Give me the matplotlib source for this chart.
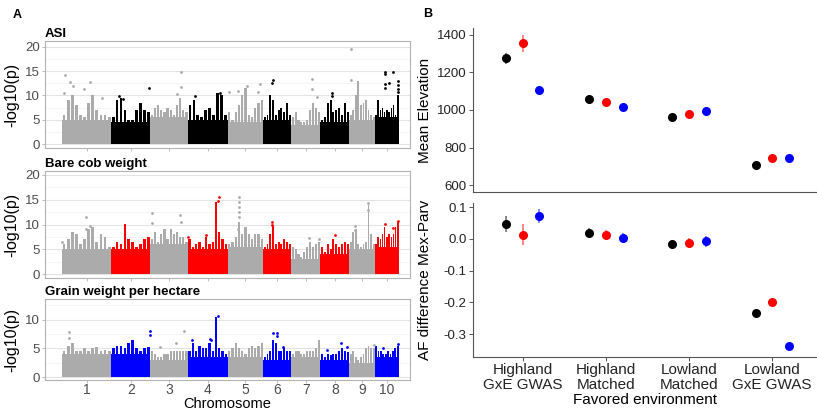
import numpy as np
import matplotlib.pyplot as plt

plt.rcParams['font.family'] = ['Liberation Sans', 'DejaVu Sans']

# --- chromosome sizes (Mb) ---
chrom_len = [307, 244, 235, 247, 223, 174, 182, 181, 159, 150]
chrom_names = ['1', '2', '3', '4', '5', '6', '7', '8', '9', '10']

# --- ASI: outline of the dense cloud along each chromosome + isolated hits ---
asi_band = [
    [6, 9, 10, 8, 6, 5.5, 8.5, 10, 7, 6, 6, 5.5],
    [5.5, 9, 9.5, 7, 5, 5, 7, 8.5, 7, 6.5],
    [6, 7.5, 8, 7, 6.5, 7.5, 7, 6, 8, 9.5, 7, 6.5],
    [8, 9, 6, 5.5, 7, 7.5, 6, 10.5, 10, 6],
    [6.5, 5, 6.5, 8, 10, 11.5, 6, 5.5, 7.5, 8.5, 9],
    [5.5, 6, 10, 9, 6, 7, 7.5, 6.5, 8.5, 6],
    [5.5, 6.5, 5, 4.5, 4.5, 5, 7, 8.5, 7.5, 6.5],
    [5, 5.5, 8.5, 9, 6.5, 7, 7.5, 6, 8.5, 6.5],
    [6, 7, 10, 13, 8, 8.5, 9, 7, 6, 5.5],
    [6, 9, 7, 7.5, 6.5, 7, 6.5, 7.5, 8, 6, 10],
]
asi_hit_chr = [1, 1, 1, 1, 1, 1, 1, 2, 2, 2, 3, 3, 3, 4, 4, 5, 5, 5, 5, 5,
               6, 6, 7, 7, 7, 8, 8, 9, 9, 10, 10, 10, 10, 10, 10, 10, 10, 10, 10]
asi_hit_pos = [0.06, 0.17, 0.22, 0.05, 0.45, 0.57, 0.82, 0.97, 0.2, 0.3, 0.82, 0.82, 0.71, 0.18, 0.8,
               0.04, 0.3, 0.53, 0.92, 0.85, 0.35, 0.31, 0.71, 0.71, 0.9, 0.4, 0.4, 0.08, 0.08,
               0.4, 0.4, 0.4, 0.4, 0.59, 0.74, 0.95, 0.95, 0.95, 0.95]
asi_hit_val = [14.2, 12.8, 11.9, 10.6, 11.3, 12.8, 9.5, 11.5, 9.8, 9.3, 14.8, 11.7, 10.2, 9.9, 10.6,
               10.7, 10.9, 12.0, 12.3, 10.7, 13.2, 12.5, 13.3, 11.4, 9.7, 10.6, 9.8, 19.6, 13.1,
               14.8, 14.5, 12.4, 11.5, 12.6, 14.8, 12.9, 12.1, 11.4, 10.7]

# --- Bare cob weight ---
cob_band = [
    [6, 7, 8.5, 8, 6, 7, 9, 9.5, 6.5, 8, 7.5, 5.5],
    [5.5, 6.5, 6, 10.2, 7, 6.5, 5.5, 6, 7, 7.5],
    [7, 8.5, 6.5, 8, 9, 7, 9, 8, 8.5, 7.5, 7.5, 6.5],
    [7, 5.5, 6, 6.5, 5.5, 7.5, 6, 6.5, 14.5, 8.5, 7, 6],
    [6, 6.5, 7.5, 10.5, 8, 9.5, 8, 7, 8, 8, 7],
    [5.5, 6, 8, 10, 6, 6.5, 6, 7, 6.5, 6],
    [5.5, 5, 4, 3.5, 4.5, 5.5, 6.5, 5.5, 6, 6.5],
    [5.5, 4.5, 6, 5, 7, 6, 5.5, 6, 6.5, 6],
    [6.5, 8.5, 9, 6, 5.5, 6, 6.5, 14, 8, 6],
    [6, 7.5, 7, 8, 9.5, 7.5, 8, 7.5, 8, 9.5, 10.5],
]
cob_hit_chr = [1, 1, 1, 1, 3, 3, 3, 3, 4, 4, 4, 4, 5, 5, 5, 5, 5, 5, 6, 6, 7, 7, 8,
               9, 9, 9, 9, 10, 10, 10]
cob_hit_pos = [0.01, 0.48, 0.48, 0.57, 0.05, 0.05, 0.78, 0.82, 0.0, 0.45, 0.79, 0.77, 0.32, 0.32,
               0.32, 0.32, 0.32, 0.29, 0.31, 0.31, 0.6, 0.95, 0.52, 0.2, 0.2, 0.72, 0.72,
               0.4, 0.75, 0.95]
cob_hit_val = [6.5, 11.5, 9.0, 9.6, 12.3, 10.4, 11.9, 10.5, 7.5, 7.8, 15.6, 14.8, 15.6, 14.5,
               13.5, 12.5, 11.5, 9.0, 10.5, 9.8, 7.2, 7.1, 7.8, 9.6, 8.9, 14.3, 13.0,
               10.2, 9.3, 10.8]

# --- Grain weight per hectare ---
grain_band = [
    [4.5, 5.5, 6, 4.5, 4.5, 5, 4.5, 5, 5.2, 4.5, 4.7, 4.5],
    [5, 5.5, 5.5, 5, 6, 6.5, 5, 4.5, 5, 5.2],
    [4.5, 4, 3.5, 3.5, 4, 4, 4.5, 4.5, 4.5, 4.5, 4.5, 4.5],
    [4.5, 6, 4.5, 5.5, 5, 5, 6, 4.5, 10.5, 5, 4.5, 4],
    [4.5, 5, 6, 5, 4.5, 4, 5, 5.5, 5, 5.5, 6],
    [3.5, 4, 4.5, 6.5, 6, 4.5, 4.5, 5, 4.5, 4.5],
    [4, 4.5, 4.5, 4, 4, 4.5, 4.5, 4.5, 5, 6.5],
    [4, 3.5, 4, 3.8, 4, 4, 4.5, 5, 4.5, 4.3],
    [4, 4.5, 3.5, 3, 3.5, 4, 5, 5.5, 5, 5],
    [5.5, 4.5, 4.5, 4, 4, 4.5, 4, 4.5, 5, 5.5],
]
grain_hit_chr = [1, 1, 2, 2, 3, 3, 3, 4, 4, 4, 4, 6, 6, 6, 6, 8, 8, 8, 9, 10, 10]
grain_hit_pos = [0.14, 0.14, 0.98, 0.98, 0.9, 0.69, 0.26, 0.1, 0.55, 0.58, 0.76, 0.35, 0.49, 0.49,
                 0.72, 0.23, 0.71, 0.93, 0.95, 0.33, 0.95]
grain_hit_val = [7.8, 6.8, 8.1, 7.3, 8.1, 5.9, 5.3, 6.4, 6.6, 6.5, 10.7, 7.7, 7.7, 7.1,
                 5.3, 4.7, 6.0, 5.3, 5.6, 5.1, 5.8]

# --- panel B: favored environment summaries ---
groups = ['Highland\nGxE GWAS', 'Highland\nMatched', 'Lowland\nMatched', 'Lowland\nGxE GWAS']
trait_colors = ['black', 'red', 'blue']
elev_mean = [[1276, 1057, 963, 708], [1356, 1042, 979, 746], [1107, 1018, 995, 742]]
elev_err = [[30, 8, 8, 8], [45, 8, 8, 8], [23, 7, 7, 7]]
af_mean = [[0.047, 0.020, -0.016, -0.235], [0.0137, 0.0126, -0.0126, -0.199], [0.0716, 0.004, -0.008, -0.336]]
af_err = [[0.025, 0.013, 0.013, 0.008], [0.032, 0.014, 0.014, 0.006], [0.023, 0.016, 0.017, 0.009]]

W, H = 817, 412
fig = plt.figure(figsize=(W / 100, H / 100), dpi=100)


def px_axes(left, top, right, bottom):
    return fig.add_axes([left / W, 1 - bottom / H, (right - left) / W, (bottom - top) / H])


starts = np.concatenate([[0], np.cumsum(chrom_len)[:-1]])
mids = starts + np.array(chrom_len) / 2
GRAY = '#ABABAB'


def manhattan(ax, band, hit_chr, hit_pos, hit_val, col, title, ylim, yticks, bottom=False):
    for i, h in enumerate(band):
        c = GRAY if i % 2 == 0 else col
        w = chrom_len[i] / len(h)
        # solid lower part of the cloud, then towers up to the outline
        ax.fill_between([starts[i], starts[i] + chrom_len[i]], 0, min(h) - 0.5,
                        color=c, linewidth=0, zorder=2)
        xc = starts[i] + w * (np.arange(len(h)) + 0.5)
        ax.bar(xc, h, width=w * 0.7, color=c, linewidth=0, zorder=2)
    for ch, p, v in zip(hit_chr, hit_pos, hit_val):
        c = GRAY if (ch - 1) % 2 == 0 else col
        ax.scatter(starts[ch - 1] + p * chrom_len[ch - 1], v, s=4, color=c, linewidths=0, zorder=3)
    ax.set_xlim(-106, 2171)
    ax.set_ylim(*ylim)
    ax.set_yticks(yticks)
    ax.set_yticks(np.arange(2.5, ylim[1], 5), minor=True)
    ax.grid(axis='y', which='major', color='#E3E3E3', linewidth=0.8, zorder=0)
    ax.grid(axis='y', which='minor', color='#F0F0F0', linewidth=0.5, zorder=0)
    ax.set_xticks(mids)
    ax.tick_params(axis='x', which='minor', bottom=False)
    ax.tick_params(axis='y', which='minor', left=False)
    ax.tick_params(colors='#B3B3B3', length=2.5, width=0.6, labelcolor='#4D4D4D', labelsize=9.5, pad=1)
    if bottom:
        ax.set_xticklabels(chrom_names, fontsize=10)
        ax.tick_params(axis='x', pad=0, length=2)
        ax.set_xlabel('Chromosome', fontsize=10.5, color='black', labelpad=0)
    else:
        ax.set_xticklabels([])
    for s in ax.spines.values():
        s.set_color('#B3B3B3')
        s.set_linewidth(0.8)
    ax.set_ylabel('-log10(p)', fontsize=11.5, color='black')
    ax.yaxis.set_label_coords(-0.071, 0.5)
    ax.set_title(title, loc='left', fontsize=9.5, fontweight='bold', pad=3)


ax1 = px_axes(45, 41, 410, 148)
manhattan(ax1, asi_band, asi_hit_chr, asi_hit_pos, asi_hit_val, 'black', 'ASI', (-0.82, 21.2), [0, 5, 10, 15, 20])
ax2 = px_axes(45, 171, 410, 278)
manhattan(ax2, cob_band, cob_hit_chr, cob_hit_pos, cob_hit_val, 'red', 'Bare cob weight', (-0.8, 20.8), [0, 5, 10, 15, 20])
ax3 = px_axes(45, 299, 410, 380)
manhattan(ax3, grain_band, grain_hit_chr, grain_hit_pos, grain_hit_val, 'blue', 'Grain weight per hectare',
          (-0.5, 13.6), [0, 5, 10], bottom=True)

# --- panel B ---
offsets = [-0.2, 0.0, 0.2]
xcat = np.arange(1, len(groups) + 1)


def summary(ax, means, errs, ylim, yticks, ylabel, fmt):
    for k in range(3):
        ax.errorbar(xcat + offsets[k], means[k], yerr=errs[k], fmt='none', ecolor=trait_colors[k],
                    elinewidth=1.1, alpha=0.6, capsize=0, zorder=2)
        ax.plot(xcat + offsets[k], means[k], 'o', color=trait_colors[k], markersize=5.5, zorder=3)
    ax.set_xlim(0.4, 4.54)
    ax.set_ylim(*ylim)
    ax.set_yticks(yticks)
    ax.set_yticklabels([fmt(v) for v in yticks])
    ax.set_xticks(xcat)
    for s in ['top', 'right']:
        ax.spines[s].set_visible(False)
    for s in ['left', 'bottom']:
        ax.spines[s].set_color('#555555')
        ax.spines[s].set_linewidth(0.8)
    ax.tick_params(colors='#555555', length=3, width=0.7, labelcolor='#222222', labelsize=9.5, pad=1.5)
    ax.set_ylabel(ylabel, fontsize=11, color='black')
    ax.yaxis.set_label_coords(-0.119, 0.5)


axb1 = px_axes(473, 28, 817, 192)
summary(axb1, elev_mean, elev_err, (563, 1437), [600, 800, 1000, 1200, 1400], 'Mean Elevation',
        lambda v: f'{v:d}')
axb1.set_xticklabels([])
axb1.tick_params(axis='x', length=0)

axb2 = px_axes(473, 203, 817, 357)
summary(axb2, af_mean, af_err, (-0.372, 0.113), [-0.3, -0.2, -0.1, 0.0, 0.1], 'AF difference Mex-Parv',
        lambda v: f'{v:.1f}')
axb2.set_xticklabels(groups, fontsize=11, linespacing=1.05)
axb2.set_xlabel('Favored environment', fontsize=11, color='black', labelpad=1)

fig.text(13 / W, 1 - 15 / H, 'A', fontsize=9, fontweight='bold', va='center')
fig.text(423 / W, 1 - 14 / H, 'B', fontsize=9, fontweight='bold', va='center')

fig.savefig('out.png', dpi=100)
